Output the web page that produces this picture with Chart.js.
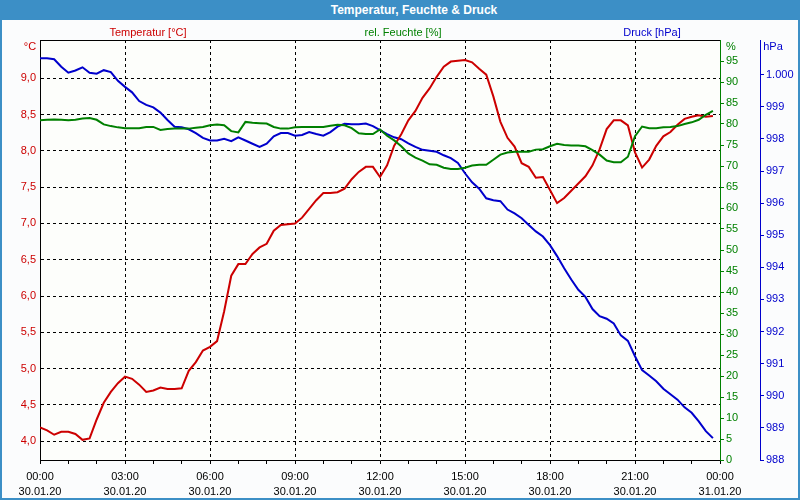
<!DOCTYPE html>
<html lang="de">
<head>
<meta charset="utf-8">
<title>Temperatur, Feuchte &amp; Druck</title>
<script src="https://cdn.jsdelivr.net/npm/chart.js@4.4.1/dist/chart.umd.min.js"></script>
<style>
  html, body { margin: 0; padding: 0; background: #fff; }
  #wrap { position: relative; width: 800px; height: 500px; background: #fbfcfd; font-family: "Liberation Sans", Arial, sans-serif; overflow: hidden; }
  #chart { position: absolute; left: 0; top: 0; }
  #titlebar { position: absolute; left: 0; top: 0; width: 800px; height: 20px; background: #3c8fc6; }
  #frame { position: absolute; left: 0; top: 0; width: 800px; height: 500px; box-sizing: border-box; border: 2px solid #3c8fc6; border-top: none; pointer-events: none; }
  .lbl { position: absolute; font-size: 11px; white-space: nowrap; transform: translate(-50%, -50%); }
  .title { color: #fff; font-weight: bold; font-size: 12px; }
</style>
</head>
<body>
<div id="wrap">
  <canvas id="chart" width="800" height="500"></canvas>
  <div id="titlebar"></div>
  <div id="frame"></div>
  <div class="lbl title" style="left:414px; top:10px;">Temperatur, Feuchte &amp; Druck</div>
  <div class="lbl" style="left:148px; top:32px; color:#cc0000;">Temperatur [°C]</div>
  <div class="lbl" style="left:403px; top:32px; color:#008000;">rel. Feuchte [%]</div>
  <div class="lbl" style="left:652px; top:32px; color:#0000cc;">Druck [hPa]</div>
  <div class="lbl" style="left:30px; top:46px; color:#cc0000;">°C</div>
  <div class="lbl" style="left:731px; top:46px; color:#008000;">%</div>
  <div class="lbl" style="left:773px; top:46px; color:#0000cc;">hPa</div>
</div>
<script>
// Messzeitpunkte (alle 15 Minuten am 30.01.20)
const times = [
  "00:00","00:15","00:30","00:45","01:00","01:15","01:30","01:45","02:00","02:15","02:30","02:45","03:00","03:15","03:30","03:45",
  "04:00","04:15","04:30","04:45","05:00","05:15","05:30","05:45","06:00","06:15","06:30","06:45","07:00","07:15","07:30","07:45",
  "08:00","08:15","08:30","08:45","09:00","09:15","09:30","09:45","10:00","10:15","10:30","10:45","11:00","11:15","11:30","11:45",
  "12:00","12:15","12:30","12:45","13:00","13:15","13:30","13:45","14:00","14:15","14:30","14:45","15:00","15:15","15:30","15:45",
  "16:00","16:15","16:30","16:45","17:00","17:15","17:30","17:45","18:00","18:15","18:30","18:45","19:00","19:15","19:30","19:45",
  "20:00","20:15","20:30","20:45","21:00","21:15","21:30","21:45","22:00","22:15","22:30","22:45","23:00","23:15","23:30","23:45"
];

const temperatur = [
  4.19,4.15,4.09,4.13,4.13,4.10,4.02,4.04,4.30,4.53,4.68,4.80,4.89,4.86,4.78,4.68,
  4.70,4.74,4.72,4.72,4.73,4.97,5.09,5.25,5.30,5.38,5.79,6.28,6.44,6.44,6.58,6.67,
  6.72,6.90,6.98,6.99,7.00,7.08,7.20,7.32,7.42,7.42,7.43,7.48,7.61,7.71,7.78,7.78,
  7.64,7.80,8.07,8.23,8.42,8.55,8.73,8.86,9.02,9.16,9.23,9.24,9.25,9.22,9.13,9.05,
  8.75,8.40,8.18,8.06,7.83,7.78,7.63,7.64,7.46,7.28,7.35,7.45,7.55,7.65,7.80,8.02,
  8.30,8.42,8.42,8.35,7.98,7.77,7.88,8.07,8.20,8.26,8.36,8.44,8.47,8.49,8.47,8.48
];

const feuchte = [
  80.9,81.0,81.1,81.0,80.9,81.0,81.3,81.4,81.0,79.9,79.5,79.2,79.0,79.0,79.0,79.3,
  79.3,78.6,78.8,78.9,78.9,78.9,79.1,79.3,79.7,79.9,79.7,78.3,78.0,80.5,80.3,80.2,
  80.1,79.3,78.9,78.9,79.2,79.3,79.3,79.3,79.3,79.6,79.8,79.7,79.0,77.8,77.6,77.6,
  78.7,77.2,76.1,74.7,73.0,72.0,71.3,70.4,70.3,69.6,69.3,69.3,69.6,70.1,70.3,70.3,
  71.5,72.7,73.2,73.4,73.4,73.4,73.9,74.0,74.7,75.3,75.0,74.9,74.9,74.7,73.8,72.7,
  71.3,70.9,70.9,72.2,77.1,79.4,79.0,79.0,79.2,79.3,79.5,80.0,80.4,81.0,82.2,83.1
];

const druck = [
  1000.51,1000.51,1000.48,1000.25,1000.06,1000.13,1000.23,1000.06,1000.03,1000.14,1000.08,999.81,999.62,999.45,999.18,999.06,
  998.98,998.82,998.59,998.38,998.36,998.30,998.18,998.03,997.95,997.95,998.00,997.93,998.05,997.95,997.85,997.75,
  997.85,998.08,998.18,998.18,998.10,998.12,998.21,998.15,998.10,998.21,998.38,998.47,998.46,998.46,998.48,998.40,
  998.27,998.15,998.05,997.99,997.86,997.75,997.66,997.63,997.60,997.49,997.40,997.25,996.93,996.65,996.45,996.15,
  996.09,996.06,995.80,995.68,995.53,995.32,995.12,994.96,994.69,994.35,993.97,993.62,993.30,993.08,992.70,992.48,
  992.40,992.25,991.88,991.71,991.23,990.80,990.63,990.45,990.22,990.05,989.88,989.64,989.47,989.20,988.90,988.68
];

// Beschriftung der x-Achse
const labelHours = [0, 3, 6, 9, 12, 15, 18, 21, 24];
const labelTimes = ["00:00","03:00","06:00","09:00","12:00","15:00","18:00","21:00","00:00"];
const labelDates = ["30.01.20","30.01.20","30.01.20","30.01.20","30.01.20","30.01.20","30.01.20","30.01.20","31.01.20"];

const RED = "#cc0000";
const GREEN = "#008000";
const BLUE = "#0000cc";
const font = { family: "'Liberation Sans', Arial, sans-serif", size: 11 };

function toHours(t) {
  const parts = t.split(":");
  return Number(parts[0]) + Number(parts[1]) / 60;
}

function points(values) {
  return times.map((t, i) => ({ x: toHours(t), y: values[i] }));
}

const plotFrame = {
  id: "plotFrame",
  beforeDraw(chart) {
    const { ctx, chartArea: a } = chart;
    ctx.save();
    ctx.fillStyle = "#fdfefb";
    ctx.fillRect(a.left, a.top, a.right - a.left, a.bottom - a.top);
    ctx.restore();
  },
  beforeDatasetsDraw(chart) {
    const { ctx, chartArea: a } = chart;
    ctx.save();
    ctx.strokeStyle = "#000";
    ctx.lineWidth = 1;
    ctx.beginPath();
    ctx.moveTo(a.left, a.top + 0.5);
    ctx.lineTo(a.right, a.top + 0.5);
    ctx.stroke();
    ctx.restore();
  }
};

new Chart(document.getElementById("chart").getContext("2d"), {
  type: "line",
  data: {
    datasets: [
      {
        label: "Temperatur [°C]",
        data: points(temperatur),
        yAxisID: "yT",
        borderColor: RED,
        borderWidth: 2,
        pointRadius: 0,
        tension: 0,
        order: 1
      },
      {
        label: "rel. Feuchte [%]",
        data: points(feuchte),
        yAxisID: "yH",
        borderColor: GREEN,
        borderWidth: 2,
        pointRadius: 0,
        tension: 0,
        order: 0
      },
      {
        label: "Druck [hPa]",
        data: points(druck),
        yAxisID: "yP",
        borderColor: BLUE,
        borderWidth: 2,
        pointRadius: 0,
        tension: 0,
        order: 2
      }
    ]
  },
  options: {
    responsive: false,
    animation: false,
    layout: { padding: { top: 40, left: 0, right: 0, bottom: 0 } },
    plugins: { legend: { display: false }, tooltip: { enabled: false } },
    scales: {
      x: {
        type: "linear",
        position: "bottom",
        min: 0,
        max: 24,
        ticks: {
          stepSize: 1,
          autoSkip: false,
          maxRotation: 0,
          minRotation: 0,
          padding: 5,
          color: "#000",
          font: { family: font.family, size: 11, lineHeight: 1.38 },
          callback: (v) => {
            const i = labelHours.indexOf(v);
            return i < 0 ? "" : [labelTimes[i], labelDates[i]];
          }
        },
        grid: {
          color: (c) => (c.tick && c.tick.value % 3 === 0 && c.tick.value > 0 && c.tick.value < 24) ? "#000" : "rgba(0,0,0,0)",
          tickColor: "#000",
          tickLength: 4,
          lineWidth: 1
        },
        border: { color: "#000", width: 1, dash: [3, 3] },
        afterFit: (s) => { s.height = 40; }
      },
      yT: {
        type: "linear",
        position: "left",
        min: 3.742,
        max: 9.527,
        ticks: {
          stepSize: 0.5,
          includeBounds: false,
          autoSkip: false,
          padding: 4,
          color: RED,
          font: font,
          callback: (v) => v.toFixed(1).replace(".", ",")
        },
        grid: { color: "#000", drawTicks: false, lineWidth: 1 },
        border: { color: "#000", width: 1, dash: [3, 3] },
        afterBuildTicks: (s) => { s.ticks = s.ticks.filter((t) => t.value >= 4 && t.value <= 9); },
        afterFit: (s) => { s.width = 40; }
      },
      yH: {
        type: "linear",
        position: "right",
        min: 0,
        max: 100,
        ticks: {
          stepSize: 5,
          autoSkip: false,
          padding: 2,
          color: GREEN,
          font: font
        },
        grid: { drawOnChartArea: false, tickColor: GREEN, tickLength: 4 },
        border: { color: GREEN, width: 1 },
        afterBuildTicks: (s) => { s.ticks = s.ticks.filter((t) => t.value <= 95); },
        afterFit: (s) => { s.width = 40; }
      },
      yP: {
        type: "linear",
        position: "right",
        min: 988,
        max: 1001.08,
        ticks: {
          stepSize: 1,
          includeBounds: false,
          autoSkip: false,
          padding: 2,
          color: BLUE,
          font: font,
          callback: (v) => (v >= 1000 ? "1.000" : String(v))
        },
        grid: { drawOnChartArea: false, tickColor: BLUE, tickLength: 4 },
        border: { color: BLUE, width: 1 },
        afterBuildTicks: (s) => { s.ticks = s.ticks.filter((t) => t.value <= 1000); },
        afterFit: (s) => { s.width = 40; }
      }
    }
  },
  plugins: [plotFrame]
});
</script>
</body>
</html>
